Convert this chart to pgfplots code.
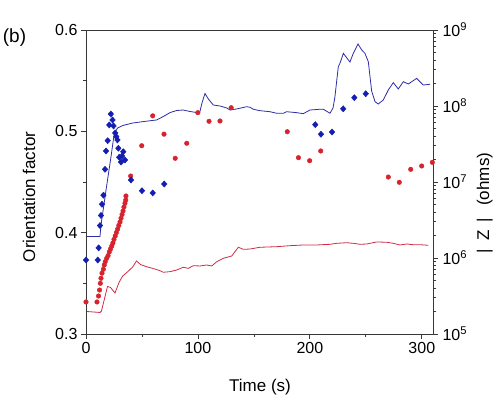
\documentclass[border=0pt]{standalone}
\usepackage{pgfplots}
\pgfplotsset{compat=1.18}
\usepackage{fontspec}
\setmainfont{Liberation Sans}
\definecolor{cblue}{RGB}{20,30,175}
\definecolor{cline}{RGB}{45,45,165}
\definecolor{cred}{RGB}{215,35,45}
\definecolor{credl}{RGB}{205,45,70}
\definecolor{axc}{RGB}{55,55,55}
\begin{document}
\begin{tikzpicture}
% right axis: impedance lines
\begin{axis}[name=imp, scale only axis, width=347pt, height=304pt,
  xmin=0, xmax=310, ymode=log, ymin=1e5, ymax=1e9,
  axis x line=none, axis y line*=right,
  ytick={1e5,1e6,1e7,1e8,1e9},
  yticklabels={10\textsuperscript{5},10\textsuperscript{6},10\textsuperscript{7},10\textsuperscript{8},10\textsuperscript{9}},
  minor ytick={2e5,3e5,4e5,5e5,6e5,7e5,8e5,9e5,2e6,3e6,4e6,5e6,6e6,7e6,8e6,9e6,2e7,3e7,4e7,5e7,6e7,7e7,8e7,9e7,2e8,3e8,4e8,5e8,6e8,7e8,8e8,9e8},
  tick align=outside, major tick length=5pt, minor tick length=3pt,
  axis line style={axc, line width=0.8pt}, every tick/.style={axc, line width=0.8pt},
  ticklabel style={font=\fontsize{16}{19}\selectfont},
  yticklabel style={xshift=1pt},
]
\addplot[cline, line width=0.8pt] coordinates {
(0,1.92e6) (12.5,1.92e6) (13.4,2.72e6) (17.9,7.85e6) (22.3,2.13e7) (25.3,4.42e7)
(28.3,5.14e7) (32.8,5.53e7) (41.7,5.97e7) (53.6,6.30e7) (63.2,6.55e7) (69.1,7.28e7)
(75.0,8.17e7) (81.0,8.73e7) (86.9,8.85e7) (92.9,8.47e7) (98.9,8.20e7) (101.8,8.47e7)
(103.6,1.094e8) (106.3,1.46e8) (109.3,1.236e8) (113.7,1.03e8) (119.7,1.0e8) (125.7,9.42e7)
(128.6,8.85e7) (134.6,9.14e7) (143.6,9.79e7) (146.5,9.62e7) (149.5,9.06e7) (155.4,8.67e7)
(158.4,8.59e7) (164.4,8.41e7) (170.4,8.02e7) (176.3,8.02e7) (179.3,8.41e7) (188.2,8.17e7)
(194.1,7.93e7) (200.1,8.85e7) (209.0,9.06e7) (212.0,9.06e7) (218.0,8.02e7) (220.7,9.42e7)
(222.4,1.324e8) (225.4,3.29e8) (226.9,3.65e8) (229.9,4.93e8) (235.8,3.79e8) (238.8,4.93e8)
(243.0,6.55e8) (246.3,5.46e8) (249.2,4.93e8) (252.2,3.83e8) (255.2,1.574e8) (258.2,1.14e8)
(261.1,1.062e8) (265.6,1.20e8) (270.1,1.626e8) (274.5,2.03e8) (279.0,1.675e8) (283.5,2.09e8)
(287.9,1.945e8) (295.4,2.31e8) (301.3,1.888e8) (307.3,1.93e8)
};
\addplot[credl, line width=0.8pt] coordinates {
(0,1.98e5) (12.5,1.92e5) (13.8,2.0e5) (19.2,4.22e5) (21.9,4.09e5) (25.9,3.46e5)
(29.7,4.83e5) (32.8,5.79e5) (37.3,6.61e5) (41.7,7.62e5) (45.1,9.14e5) (48.7,8.20e5)
(53.9,7.69e5) (59.9,7.28e5) (65.7,6.85e5) (69.1,6.49e5) (75.0,6.61e5) (81.0,6.95e5)
(86.9,7.55e5) (91.4,7.31e5) (95.9,7.93e5) (101.8,7.85e5) (107.8,8.09e5) (112.3,7.85e5)
(116.8,8.93e5) (122.7,9.91e5) (130.2,1.062e6) (133.1,1.211e6) (136.1,1.384e6) (140.5,1.30e6)
(146.5,1.312e6) (155.4,1.384e6) (170.4,1.409e6) (182.2,1.452e6) (194.1,1.483e6) (206.1,1.483e6)
(218.0,1.514e6) (224.0,1.56e6) (232.9,1.589e6) (238.8,1.56e6) (244.8,1.514e6) (250.8,1.528e6)
(259.7,1.626e6) (268.6,1.61e6) (274.5,1.56e6) (280.5,1.483e6) (286.5,1.528e6) (292.4,1.496e6)
(298.4,1.496e6) (305.8,1.469e6)
};
\end{axis}
% left axis: orientation factor
\begin{axis}[name=main, scale only axis, width=347pt, height=304pt,
  xmin=0, xmax=310, ymin=0.3, ymax=0.6,
  xtick={0,100,200,300}, minor xtick={50,150,250},
  ytick={0.3,0.4,0.5,0.6}, minor ytick={0.35,0.45,0.55},
  xtick pos=bottom, ytick pos=left, tick align=outside,
  major tick length=5pt, minor tick length=3pt,
  axis line style={axc, line width=0.8pt}, every tick/.style={axc, line width=0.8pt},
  ticklabel style={font=\fontsize{16}{19}\selectfont},
  /pgf/number format/assume math mode=true,
  y tick label style={/pgf/number format/fixed, /pgf/number format/fixed zerofill, /pgf/number format/precision=1},
]
\addplot[only marks, mark=*, mark size=2.3pt, cred, mark options={draw=cred, fill=cred}] coordinates {
(0,0.3316) (9.8,0.3316) (11.2,0.3375) (12.1,0.3434) (12.8,0.350) (13.4,0.355) (14.3,0.360)
(15.5,0.3639) (16.3,0.3681) (17.2,0.3714) (18.5,0.3747) (19.7,0.3773) (20.8,0.3809)
(21.9,0.3839) (23.0,0.3868) (24.0,0.3898) (25.0,0.3933) (26.1,0.3967) (27.2,0.4002)
(28.3,0.4036) (29.3,0.4071) (30.4,0.4105) (31.3,0.4142) (32.2,0.4179) (33.1,0.4214)
(33.9,0.4253) (34.8,0.4290) (35.5,0.4322) (35.7,0.4362)
(39.9,0.4559) (49.8,0.4858) (59.6,0.5153) (69.7,0.4972) (79.7,0.4734) (90.0,0.4882)
(99.9,0.5184) (109.9,0.5099) (119.7,0.5102) (129.7,0.5233)
(179.8,0.4996) (189.8,0.474) (199.8,0.471) (209.7,0.4806)
(270.1,0.4549) (279.9,0.4497) (290.1,0.4625) (299.9,0.4658) (309.4,0.4694)
};
\addplot[only marks, mark=diamond*, mark size=3.1pt, cblue, mark options={draw=cblue, fill=cblue, xscale=1.2}] coordinates {
(0,0.373) (10.5,0.373) (11.3,0.385) (12.5,0.407) (13.4,0.417) (14.3,0.428) (15.6,0.437)
(17.0,0.4625) (17.9,0.4806) (19.4,0.4908) (20.8,0.5063) (22.2,0.5171) (23.7,0.5112)
(24.6,0.5053) (26.1,0.4984) (27.1,0.4947) (28.1,0.4915) (28.9,0.4833) (29.7,0.4744)
(31.3,0.4697) (32.2,0.4757) (33.3,0.4799) (34.8,0.4717)
(40.2,0.452) (50.0,0.4414) (59.6,0.4392) (69.9,0.448)
(204.8,0.5066) (209.9,0.4971) (219.8,0.4993) (229.8,0.5222) (239.7,0.5332) (249.9,0.5371)
};
\end{axis}
\node[rotate=90, font=\fontsize{17}{20}\selectfont] at ([xshift=-57pt,yshift=137pt]main.south west) {Orientation factor};
\node[rotate=90, font=\fontsize{17}{20}\selectfont] at ([xshift=398.7pt,yshift=130.7pt]main.south west) {|\hspace{0.5em}Z\hspace{0.5em}|\hspace{0.7em}(ohms)};
\node[anchor=base, font=\fontsize{17}{20}\selectfont] at ([xshift=174pt,yshift=-57.5pt]main.south west) {Time (s)};
\node[anchor=base west, inner sep=0pt, font=\fontsize{19}{22}\selectfont] at ([xshift=-83.3pt,yshift=291pt]main.south west) {(b)};
\pgfresetboundingbox
\path ([xshift=-86pt,yshift=-64pt]main.south west) rectangle ([xshift=415pt,yshift=334pt]main.south west);
\end{tikzpicture}
\end{document}
